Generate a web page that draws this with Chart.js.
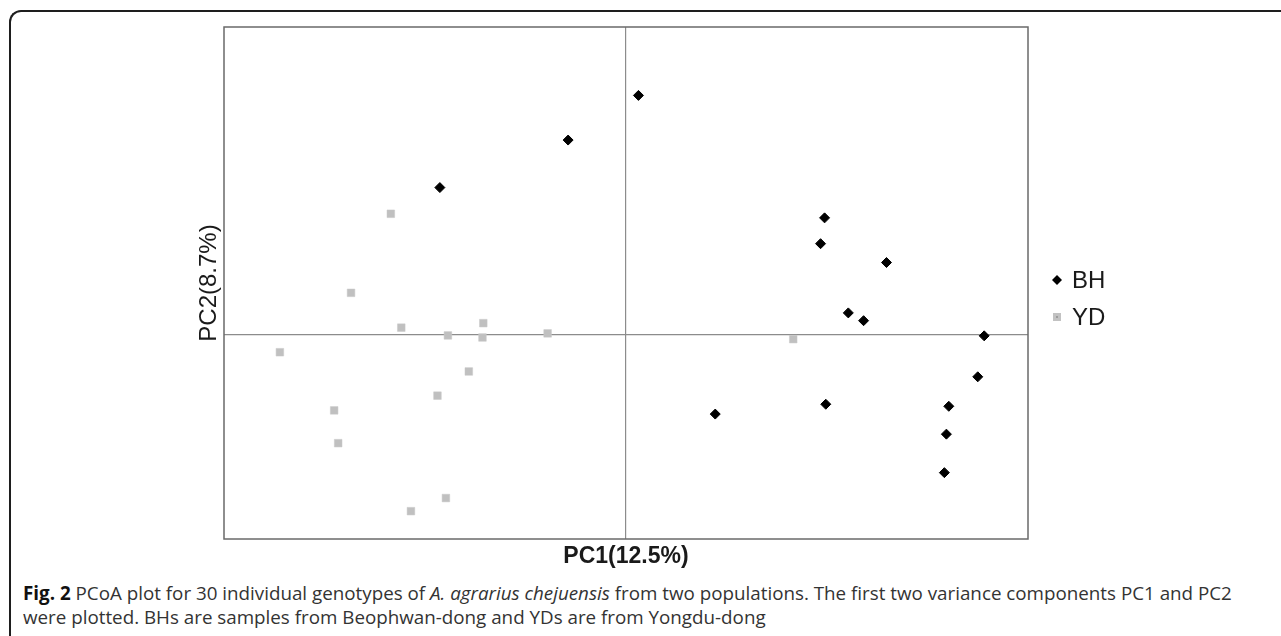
<!DOCTYPE html>
<html>
<head>
<meta charset="utf-8">
<script src="https://cdn.jsdelivr.net/npm/chart.js@4/dist/chart.umd.min.js"></script>
<style>
  html, body { margin:0; padding:0; background:#fff; width:1281px; height:636px; overflow:hidden; }
  #frame { position:absolute; left:9px; top:10px; width:1300px; height:700px; border-top:2px solid #1e1e1e; border-left:2px solid #1e1e1e; border-top-left-radius:12px; box-sizing:border-box; }
  #wrap { position:absolute; left:0; top:0; width:1281px; height:580px; }
  #cap { position:absolute; left:23px; top:581px; width:1250px; font-family:"Open Sans", "Noto Sans", sans-serif; font-size:18.8px; line-height:24px; color:#333; white-space:nowrap; }
  #cap b { color:#111; }
</style>
</head>
<body>
<div id="frame"></div>
<div id="wrap"><canvas id="c" width="1281" height="580"></canvas></div>
<div id="cap"><b>Fig. 2</b> PCoA plot for 30 individual genotypes of <i>A. agrarius chejuensis</i> from two populations. The first two variance components PC1 and PC2<br>were plotted. BHs are samples from Beophwan-dong and YDs are from Yongdu-dong</div>
<script>
// Population labels
const seriesLabels = ["BH", "YD"];
// BH (Beophwan-dong) coordinates
const bhX = [-0.463, -0.144, 0.031, 0.494, 0.484, 0.648, 0.553, 0.591, 0.891, 0.875, 0.222, 0.497, 0.803, 0.797, 0.792];
const bhY = [0.358, 0.474, 0.583, 0.284, 0.221, 0.175, 0.052, 0.033, -0.004, -0.104, -0.195, -0.171, -0.176, -0.244, -0.338];
// YD (Yongdu-dong) coordinates
const ydX = [-0.585, -0.684, -0.559, -0.443, -0.355, -0.357, -0.195, -0.861, -0.391, -0.469, -0.726, -0.716, -0.448, -0.535, 0.416];
const ydY = [0.294, 0.101, 0.016, -0.003, 0.027, -0.008, 0.002, -0.044, -0.091, -0.150, -0.186, -0.266, -0.400, -0.432, -0.012];
// Axis titles
const xTitle = "PC1(12.5%)";
const yTitle = "PC2(8.7%)";

const toPts = (xs, ys) => xs.map((x, i) => ({x: x, y: ys[i]}));
const bhPts = toPts(bhX, bhY);
const ydPts = toPts(ydX, ydY);

const framePlugin = {
  id: 'frameBox',
  beforeDatasetsDraw(chart) {
    const {ctx, chartArea: a} = chart;
    ctx.save();
    ctx.strokeStyle = '#6a6a6a';
    ctx.lineWidth = 1.5;
    ctx.strokeRect(a.left, a.top, a.right - a.left, a.bottom - a.top);
    ctx.restore();
  }
};

const legendPlugin = {
  id: 'customLegend',
  afterDraw(chart) {
    const ctx = chart.ctx;
    ctx.save();
    const mx = 1057, tx = 1072;
    const ys = [280, 317];
    // BH diamond
    ctx.fillStyle = '#000';
    ctx.beginPath();
    ctx.moveTo(mx, ys[0] - 5); ctx.lineTo(mx + 5, ys[0]); ctx.lineTo(mx, ys[0] + 5); ctx.lineTo(mx - 5, ys[0]);
    ctx.closePath(); ctx.fill();
    // YD square
    ctx.fillStyle = '#c2c2c2';
    ctx.fillRect(mx - 4, ys[1] - 4, 8, 8);
    ctx.fillStyle = '#9c9c9c';
    ctx.fillRect(mx - 1, ys[1] - 1, 2, 2);
    ctx.fillStyle = '#1a1a1a';
    ctx.font = '24px "Liberation Sans", Arial, sans-serif';
    ctx.textBaseline = 'middle';
    ctx.textAlign = 'left';
    seriesLabels.forEach((l, i) => ctx.fillText(l, tx, ys[i] + 1));
    ctx.restore();
  }
};

const zeroGrid = (ctx) => (ctx.tick && ctx.tick.value === 0) ? '#8c8c8c' : 'rgba(0,0,0,0)';

new Chart(document.getElementById('c'), {
  type: 'scatter',
  data: {
    datasets: [
      { label: seriesLabels[0], data: bhPts, pointStyle: 'rectRot', pointRadius: 5, pointBorderWidth: 1,
        backgroundColor: '#000', borderColor: '#000', pointHoverRadius: 5 },
      { label: seriesLabels[1], data: ydPts, pointStyle: 'rect', pointRadius: 5.4, pointBorderWidth: 0.5,
        backgroundColor: '#c0c0c0', borderColor: '#c8c8c8', pointHoverRadius: 5.4 },
      { label: seriesLabels[1] + ' core', data: ydPts, pointStyle: 'rect', pointRadius: 1.2, pointBorderWidth: 0,
        backgroundColor: '#9a9a9a', borderColor: '#9a9a9a', pointHoverRadius: 1.2 }
    ]
  },
  options: {
    responsive: false,
    animation: false,
    devicePixelRatio: 1,
    layout: { padding: { top: 27, right: 253, left: 0, bottom: 0 } },
    plugins: { legend: { display: false }, tooltip: { enabled: false } },
    scales: {
      x: {
        type: 'linear', min: -1, max: 1,
        ticks: { display: false, stepSize: 1 },
        grid: { color: zeroGrid, lineWidth: 1.2, drawTicks: false },
        border: { display: false },
        title: { display: true, text: xTitle, color: '#1a1a1a',
          font: { family: '"Liberation Sans", Arial, sans-serif', size: 23, weight: 'bold' },
          padding: { top: 0, bottom: 10 } },
        afterFit: (s) => { s.height = 41; }
      },
      y: {
        type: 'linear', min: -0.5, max: 0.75,
        ticks: { display: false, stepSize: 0.25 },
        grid: { color: zeroGrid, lineWidth: 1.2, drawTicks: false },
        border: { display: false },
        title: { display: true, text: yTitle, color: '#1a1a1a',
          font: { family: '"Liberation Sans", Arial, sans-serif', size: 24, weight: 'normal' },
          padding: { top: 195, bottom: 0 } },
        afterFit: (s) => { s.width = 224; }
      }
    }
  },
  plugins: [framePlugin, legendPlugin]
});
</script>
</body>
</html>
